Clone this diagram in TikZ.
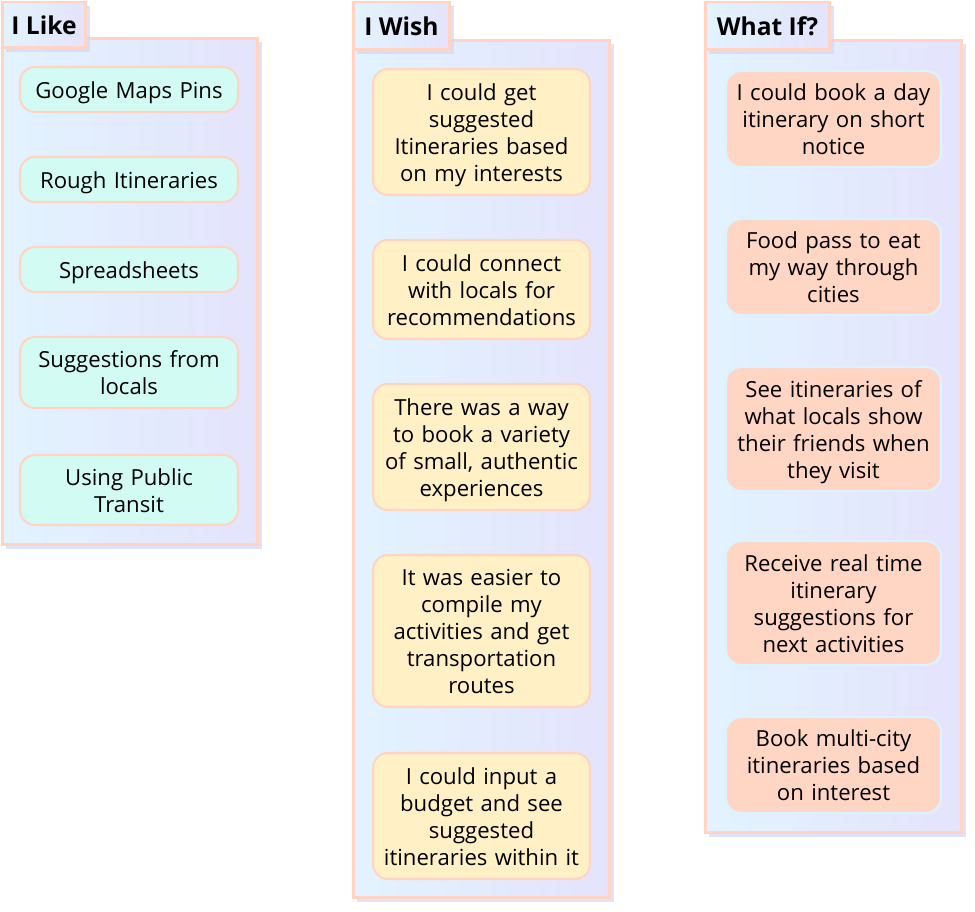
\documentclass[tikz,border=0pt]{standalone}
\usepackage{fontspec}
\setmainfont{Open Sans}
\usepackage{xcolor}
\usepackage{tikz}
\usetikzlibrary{shapes,positioning,shadows}

\definecolor{peachline}{HTML}{FFD4C2}
\definecolor{panelleft}{HTML}{E2F3FF}
\definecolor{panelright}{HTML}{E4E3FC}
\definecolor{mintcard}{HTML}{D2FBF3}
\definecolor{yellowcard}{HTML}{FFF0C6}
\definecolor{peachcard}{HTML}{FFD6C4}
\definecolor{skyline}{HTML}{DDF2FF}
\definecolor{shadowblue}{HTML}{D3D6F8}

\begin{document}
\begin{tikzpicture}[
    x=0.02cm, y=-0.02cm,
    panel/.style={rectangle, draw=peachline, line width=1.7pt, left color=panelleft, right color=panelright, drop shadow={fill=shadowblue, opacity=0.7, shadow xshift=0.08cm, shadow yshift=-0.08cm}},
    tab/.style={panel, inner sep=0pt, font=\fontsize{14}{17}\selectfont\bfseries},
    card/.style={rectangle, rounded corners=0.3cm, line width=1.2pt, align=center, text width=4.2cm, inner sep=0pt,
        font=\fontsize{12.6}{15.4}\selectfont,
        execute at begin node={\rule{0pt}{13pt}}, execute at end node={\rule[-3.2pt]{0pt}{0pt}}},
    like/.style={card, draw=peachline, fill=mintcard, minimum width=4.36cm},
    wish/.style={card, draw=peachline, fill=yellowcard, minimum width=4.34cm},
    whatif/.style={card, draw=skyline, fill=peachcard, minimum width=4.3cm}
]
    \useasboundingbox (0,0) rectangle (975,912);

    % I Like
    \node[panel, minimum width=5.12cm, minimum height=10.14cm] (likepanel) at (130, 291.5) {};
    \node[tab, minimum width=1.68cm, minimum height=0.92cm] (liketab) at (44, 25) {I Like};
    \node[like, minimum height=0.9cm] (like1) at (129, 89.5) {Google Maps Pins};
    \node[like, minimum height=0.9cm] (like2) at (129, 179.5) {Rough Itineraries};
    \node[like, minimum height=0.9cm] (like3) at (129, 269.5) {Spreadsheets};
    \node[like, minimum height=1.42cm] (like4) at (129, 372.5) {Suggestions from\\locals};
    \node[like, minimum height=1.4cm] (like5) at (129, 490) {Using Public\\Transit};

    % I Wish
    \node[panel, minimum width=5.14cm, minimum height=17.16cm] (wishpanel) at (481.5, 469) {};
    \node[tab, minimum width=1.94cm, minimum height=0.96cm] (wishtab) at (401.5, 26) {I Wish};
    \node[wish, minimum height=2.52cm] (wish1) at (481.5, 132) {I could get\\suggested\\Itineraries based\\on my interests};
    \node[wish, minimum height=1.98cm] (wish2) at (481.5, 289.5) {I could connect\\with locals for\\recommendations};
    \node[wish, minimum height=2.52cm] (wish3) at (481.5, 447) {There was a way\\to book a variety\\of small, authentic\\experiences};
    \node[wish, minimum height=3.04cm] (wish4) at (481.5, 631) {It was easier to\\compile my\\activities and get\\transportation\\routes};
    \node[wish, minimum height=2.52cm] (wish5) at (481.5, 816) {I could input a\\budget and see\\suggested\\itineraries within it};

    % What If?
    \node[panel, minimum width=5.14cm, minimum height=15.86cm] (whatifpanel) at (833.5, 436.5) {};
    \node[tab, minimum width=2.5cm, minimum height=0.96cm] (whatiftab) at (767.5, 26) {What If?};
    \node[whatif, minimum height=1.92cm] (whatif1) at (833.5, 119) {I could book a day\\itinerary on short\\notice};
    \node[whatif, minimum height=1.92cm] (whatif2) at (833.5, 267) {Food pass to eat\\my way through\\cities};
    \node[whatif, minimum height=2.48cm] (whatif3) at (833.5, 429) {See itineraries of\\what locals show\\their friends when\\they visit};
    \node[whatif, minimum height=2.48cm] (whatif4) at (833.5, 603) {Receive real time\\itinerary\\suggestions for\\next activities};
    \node[whatif, minimum height=1.92cm] (whatif5) at (833.5, 765) {Book multi-city\\itineraries based\\on interest};
\end{tikzpicture}
\end{document}
